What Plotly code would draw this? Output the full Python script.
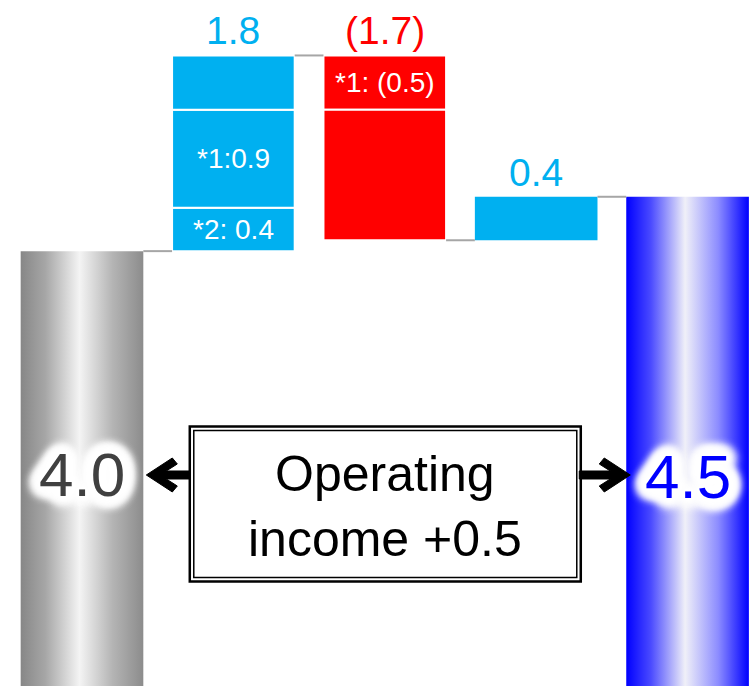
import math
import plotly.graph_objects as go

# ---- data -------------------------------------------------------------
start_value = 4.0
end_value = 4.5
deltas = [1.8, -1.7, 0.4]
delta_labels = ["1.8", "(1.7)", "0.4"]
delta_colors = ["#00b0f0", "#ff0000", "#00b0f0"]

# breakdown of the first increase (bottom to top) and the decrease (top to bottom)
inc_segments = [0.4, 0.9, 0.5]
inc_segment_labels = ["*2: 0.4", "*1:0.9", ""]
dec_segments = [-0.5, -1.2]
dec_segment_labels = ["*1: (0.5)", ""]

box_text = "Operating<br>income +0.5"
start_label = "4.0"
end_label = "4.5"

# ---- layout constants -------------------------------------------------
FONT = "Liberation Sans, Arial, sans-serif"
BAR_W = 0.81
Y_MAX = 6.31


def glow_shadow():
    # a ring of offset white shadows gives an opaque halo with soft edges
    parts = []
    for radius, blur in ((4, 4), (8, 6), (11, 8)):
        for k in range(12):
            a = 2 * math.pi * k / 12
            parts.append(f"{radius * math.cos(a):.1f}px {radius * math.sin(a):.1f}px {blur}px #fff")
    parts.append("0 0 16px #fff")
    return ", ".join(parts)


GLOW = glow_shadow()

fig = go.Figure()


def gradient_bar(pos, value, colorscale):
    half = BAR_W / 2
    fig.add_trace(go.Scatter(
        x=[pos - half, pos + half, pos + half, pos - half, pos - half],
        y=[0, 0, value, value, 0],
        mode="lines", line=dict(width=0), fill="toself",
        fillgradient=dict(type="horizontal", colorscale=colorscale),
        hoverinfo="skip", showlegend=False))


# start and end totals
gradient_bar(0, start_value,
             [[0, "#878787"], [0.2, "#a6a6a6"], [0.48, "#f4f4f4"],
              [0.75, "#b4b4b4"], [1, "#8c8c8c"]])
gradient_bar(4, end_value,
             [[0, "#0000ff"], [0.2, "#4a4aff"], [0.48, "#f0f0f8"],
              [0.75, "#8c8cff"], [1, "#0000ff"]])

# running totals for the waterfall steps
levels = [start_value]
for d in deltas:
    levels.append(levels[-1] + d)

annotations = []

# step 1: stacked increase segments
base = levels[0]
for seg, lab in zip(inc_segments, inc_segment_labels):
    fig.add_trace(go.Bar(x=[1], y=[seg], base=[base], width=BAR_W,
                         marker=dict(color=delta_colors[0],
                                     line=dict(color="white", width=2)),
                         hoverinfo="skip", showlegend=False))
    if lab:
        annotations.append(dict(x=1, y=base + seg / 2, text=lab, showarrow=False,
                                font=dict(family=FONT, size=28, color="white")))
    base += seg

# step 2: decrease segments from the top down
top = levels[1]
for seg, lab in zip(dec_segments, dec_segment_labels):
    fig.add_trace(go.Bar(x=[2], y=[-seg], base=[top + seg], width=BAR_W,
                         marker=dict(color=delta_colors[1],
                                     line=dict(color="white", width=2)),
                         hoverinfo="skip", showlegend=False))
    if lab:
        annotations.append(dict(x=2, y=top + seg / 2, text=lab, showarrow=False,
                                font=dict(family=FONT, size=28, color="white")))
    top += seg

# step 3: single increase
fig.add_trace(go.Bar(x=[3], y=[deltas[2]], base=[levels[2]], width=BAR_W,
                     marker=dict(color=delta_colors[2], line=dict(width=0)),
                     hoverinfo="skip", showlegend=False))

# value labels above each step
for i, (d, lab, col) in enumerate(zip(deltas, delta_labels, delta_colors)):
    top_level = max(levels[i], levels[i + 1])
    annotations.append(dict(x=i + 1, y=top_level, text=lab, showarrow=False,
                            yanchor="bottom", yshift=1,
                            font=dict(family=FONT, size=39, color=col)))

# connector lines: each bar's closing level carried to the next bar
shapes = []
for i in range(4):
    lvl = levels[i]
    shapes.append(dict(type="line", xref="x", yref="y",
                       x0=i + BAR_W / 2, x1=i + 1 - BAR_W / 2, y0=lvl, y1=lvl,
                       line=dict(color="#a6a6a6", width=2)))

# total labels with a white glow
annotations.append(dict(x=0, y=0.308, yref="paper", yanchor="middle",
                        text=start_label, showarrow=False,
                        font=dict(family=FONT, size=62, color="#404040", shadow=GLOW)))
annotations.append(dict(x=4, y=0.306, yref="paper", yanchor="middle",
                        text=end_label, showarrow=False,
                        font=dict(family=FONT, size=62, color="#0000ff", shadow=GLOW)))

# central summary box with a double border
BOX_Y = 0.2646
for inset, lw in [(0, 2.5), (4, 1.5)]:
    shapes.append(dict(type="rect", xref="x", yref="paper",
                       xsizemode="pixel", ysizemode="pixel",
                       xanchor=2, yanchor=BOX_Y,
                       x0=-195 + inset, x1=196 - inset,
                       y0=-77 + inset, y1=78 - inset,
                       fillcolor="white" if inset == 0 else "rgba(0,0,0,0)",
                       line=dict(color="black", width=lw), layer="above"))
annotations.append(dict(x=2, y=BOX_Y, yref="paper", yanchor="middle", yshift=-2,
                        text=box_text, showarrow=False,
                        font=dict(family=FONT, size=50, color="black")))


def arrow_path(tip, shaft_len, direction):
    # thick chevron arrow; tip at `tip` px from the anchor, pointing along `direction` (-1 left, +1 right)
    pts = [(0, 0), (26, 17), (31, 11), (20, 4), (shaft_len, 4),
           (shaft_len, -4), (20, -4), (31, -11), (26, -17)]
    coords = [(tip - direction * px, py) for px, py in pts]
    return "M " + " L ".join(f"{x:.1f},{y:.1f}" for x, y in coords) + " Z"


# arrows pointing from the box to the two totals
ARROW_Y = 0.3076
for anchor, tip, length, direction in [(0 + BAR_W / 2, 3, 44, -1),
                                       (4 - BAR_W / 2, 4, 51, 1)]:
    shapes.append(dict(type="path", xref="x", yref="paper",
                       xsizemode="pixel", ysizemode="pixel",
                       xanchor=anchor, yanchor=ARROW_Y,
                       path=arrow_path(tip, length, direction),
                       fillcolor="black", line=dict(color="black", width=1),
                       layer="above"))

fig.update_layout(
    width=751, height=686,
    margin=dict(l=0, r=0, t=0, b=0),
    paper_bgcolor="white", plot_bgcolor="white",
    barmode="overlay", showlegend=False,
    xaxis=dict(range=[-0.5416, 4.419], visible=False, fixedrange=True),
    yaxis=dict(range=[0, Y_MAX], visible=False, fixedrange=True),
    shapes=shapes, annotations=annotations,
)

fig.write_html("out.html")
